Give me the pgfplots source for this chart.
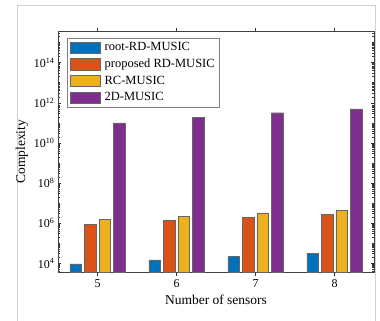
\documentclass[border=0pt]{standalone}
\usepackage{fontspec}
\setmainfont{Liberation Serif}
\usepackage{pgfplots}
\pgfplotsset{compat=1.18}
\definecolor{cA}{rgb}{0,0.447,0.741}
\definecolor{cB}{rgb}{0.85,0.325,0.098}
\definecolor{cC}{rgb}{0.929,0.694,0.125}
\definecolor{cD}{rgb}{0.494,0.184,0.556}
\begin{document}
\begin{tikzpicture}[x=1pt,y=1pt]
\path[use as bounding box] (-58,-48.3) rectangle (322,272.7);
\draw[black!18, line width=0.8pt] (-41,-48.3) -- (-41,267.7) -- (317,267.7) -- (317,-48.3);
\begin{axis}[
  at={(0,0)}, anchor=south west,
  scale only axis, width=316pt, height=241.7pt,
  ymode=log, log basis y=10, log origin y=infty,
  ymin=3.4e3, ymax=3.8e15,
  xmin=4.5, xmax=8.5,
  xtick={5,6,7,8},
  ytick={1e4,1e6,1e8,1e10,1e12,1e14},
  minor ytick={4e3,5e3,6e3,7e3,8e3,9e3,
    2e4,3e4,4e4,5e4,6e4,7e4,8e4,9e4,1e5,2e5,3e5,4e5,5e5,6e5,7e5,8e5,9e5,
    2e6,3e6,4e6,5e6,6e6,7e6,8e6,9e6,1e7,2e7,3e7,4e7,5e7,6e7,7e7,8e7,9e7,
    2e8,3e8,4e8,5e8,6e8,7e8,8e8,9e8,1e9,2e9,3e9,4e9,5e9,6e9,7e9,8e9,9e9,
    2e10,3e10,4e10,5e10,6e10,7e10,8e10,9e10,1e11,2e11,3e11,4e11,5e11,6e11,7e11,8e11,9e11,
    2e12,3e12,4e12,5e12,6e12,7e12,8e12,9e12,1e13,2e13,3e13,4e13,5e13,6e13,7e13,8e13,9e13,
    2e14,3e14,4e14,5e14,6e14,7e14,8e14,9e14,1e15,2e15,3e15},
  log number format basis/.code 2 args={#1\textsuperscript{\pgfmathprintnumber[assume math mode=true]{#2}}},
  tick align=inside,
  major tick length=3.5pt, minor tick length=2pt,
  tick style={black!80, line width=0.5pt},
  axis line style={black!75, line width=0.6pt},
  ticklabel style={font=\fontsize{12}{14}\selectfont},
  /pgf/number format/assume math mode=true,
  xlabel={Number of sensors},
  ylabel={Complexity},
  every axis x label/.style={at={([yshift=-27.3pt]axis description cs:0.5,0)}, anchor=center, font=\fontsize{13.5}{15}\selectfont},
  every axis y label/.style={at={([xshift=-36pt]axis description cs:0,0.5)}, anchor=center, rotate=90, font=\fontsize{13.5}{15}\selectfont},
  ybar=2.8pt, bar width=11.7pt,
  legend image code/.code={\draw[#1] (0pt,-5.7pt) rectangle (30pt,5.7pt); \path (32.5pt,0pt);},
  legend style={at={(axis description cs:0.0285,0.972)}, anchor=north west,
    draw=black!50, line width=0.5pt, font=\fontsize{12.5}{14}\selectfont,
    inner sep=2.5pt, row sep=2.8pt},
  legend cell align=left,
]
\addplot[fill=cA, draw=black!60, line width=0.4pt] coordinates {(5,9300) (6,1.5e4) (7,2.2e4) (8,3.2e4)};
\addplot[fill=cB, draw=black!60, line width=0.4pt] coordinates {(5,8.9e5) (6,1.4e6) (7,2.0e6) (8,2.8e6)};
\addplot[fill=cC, draw=black!60, line width=0.4pt] coordinates {(5,1.5e6) (6,2.2e6) (7,3.3e6) (8,4.2e6)};
\addplot[fill=cD, draw=black!60, line width=0.4pt] coordinates {(5,1e11) (6,1.9e11) (7,3.2e11) (8,5e11)};
\legend{root-RD-MUSIC, proposed RD-MUSIC, RC-MUSIC, 2D-MUSIC}
\end{axis}
\end{tikzpicture}
\end{document}
